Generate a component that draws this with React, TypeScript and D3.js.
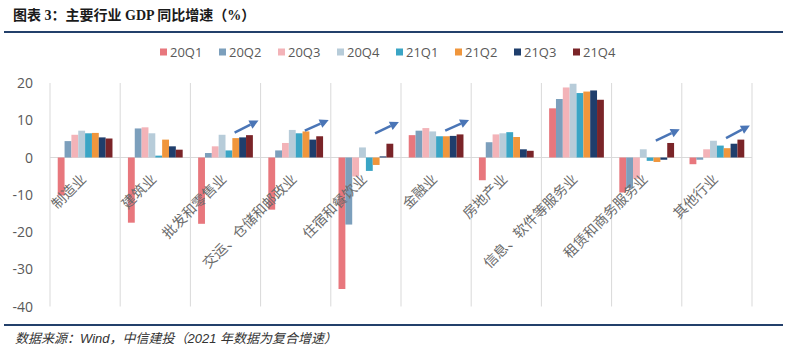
import React from "react";
import * as d3 from "d3";

const categories = [
  "制造业",
  "建筑业",
  "批发和零售业",
  "交运、仓储和邮政业",
  "住宿和餐饮业",
  "金融业",
  "房地产业",
  "信息、软件等服务业",
  "租赁和商务服务业",
  "其他行业",
];

const seriesNames = ["20Q1", "20Q2", "20Q3", "20Q4", "21Q1", "21Q2", "21Q3", "21Q4"];
const seriesColors = ["#E8777D", "#7C9FBC", "#F3B3B8", "#B7CCD9", "#3AA5C5", "#F0963C", "#1F3E6C", "#7A2428"];

const q20Q1 = [-10.2, -17.5, -17.8, -14.0, -35.3, 6.0, -6.1, 13.2, -9.4, -1.8];
const q20Q2 = [4.4, 7.8, 1.2, 1.9, -18.0, 7.2, 4.1, 15.7, -8.2, -0.6];
const q20Q3 = [6.1, 8.1, 3.0, 3.9, -5.1, 7.9, 6.2, 18.8, -5.7, 2.2];
const q20Q4 = [7.2, 6.5, 6.1, 7.4, 2.7, 7.0, 6.5, 19.8, 2.2, 4.5];
const q21Q1 = [6.5, 0.5, 1.9, 6.5, -3.6, 5.7, 6.8, 17.3, -0.9, 3.2];
const q21Q2 = [6.6, 4.8, 5.2, 7.0, -2.0, 5.7, 5.5, 17.7, -1.2, 2.5];
const q21Q3 = [5.4, 3.0, 5.4, 4.8, 0.3, 5.8, 2.2, 18.0, -0.6, 3.7];
const q21Q4 = [5.1, 2.1, 6.0, 5.7, 3.7, 6.2, 1.8, 15.5, 3.9, 4.8];
const seriesValues = [q20Q1, q20Q2, q20Q3, q20Q4, q21Q1, q21Q2, q21Q3, q21Q4];

const yTicks = [20, 10, 0, -10, -20, -30, -40];

// trend arrows: category, start value, end value
const arrowCats = ["批发和零售业", "交运、仓储和邮政业", "住宿和餐饮业", "金融业", "租赁和商务服务业", "其他行业"];
const arrowFrom = [6.7, 7.2, 6.5, 7.2, 4.5, 5.2];
const arrowTo = [9.9, 10.1, 9.5, 10.1, 7.6, 8.6];

const titleText = "图表 3：主要行业 GDP 同比增速（%）";
const sourceText = "数据来源：Wind，中信建投（2021 年数据为复合增速）";

export default function App() {
  const W = 800;
  const H = 353;
  const plotLeft = 50;
  const plotRight = 752;
  const plotTop = 83;
  const plotBottom = 306.5;

  const x0 = d3.scaleBand<string>().domain(categories).range([plotLeft, plotRight]).padding(0);
  const bw = x0.bandwidth();
  const x1 = d3
    .scaleBand<string>()
    .domain(seriesNames)
    .range([bw * 0.11, bw * 0.89])
    .padding(0);
  const y = d3.scaleLinear().domain([-40, 20]).range([plotBottom, plotTop]);

  const cjk = "'Noto Sans CJK SC', sans-serif";
  const latin = "'Open Sans', 'Noto Sans CJK SC', sans-serif";
  const gridColor = "#D9D9D9";
  const arrowColor = "#4A75B6";

  const boundaries = categories.map((c) => x0(c) as number).concat([plotRight]);

  return (
    <svg
      width={W}
      height={H}
      viewBox={`0 0 ${W} ${H}`}
      style={{ position: "absolute", left: 0, top: 0, background: "#fff" }}
    >
      <rect x={0} y={0} width={W} height={H} fill="#fff" />
      {/* title */}
      <text
        x={13}
        y={20}
        fontSize={14}
        fontWeight="bold"
        fill="#1a1a1a"
        fontFamily="'Liberation Serif', 'Noto Sans CJK SC', serif"
      >
        {titleText}
      </text>
      <line x1={4} x2={783} y1={32} y2={32} stroke="#23406B" strokeWidth={2} />

      {/* legend */}
      {seriesNames.map((s, i) => {
        const lx = 160 + i * 59;
        return (
          <g key={s}>
            <rect x={lx} y={48.5} width={7} height={7} fill={seriesColors[i]} />
            <text x={lx + 10} y={52} dy="0.36em" fontSize={13} fill="#595959" fontFamily={latin}>
              {s}
            </text>
          </g>
        );
      })}

      {/* gridlines */}
      {boundaries.map((bx, i) => (
        <line key={i} x1={bx} x2={bx} y1={plotTop} y2={plotBottom} stroke={gridColor} strokeWidth={1} />
      ))}
      <line x1={plotLeft} x2={plotRight} y1={y(0)} y2={y(0)} stroke={gridColor} strokeWidth={1} />

      {/* y ticks */}
      {yTicks.map((t) => (
        <text
          key={t}
          x={33}
          y={y(t)}
          dy="0.36em"
          textAnchor="end"
          fontSize={14}
          fill="#595959"
          fontFamily={latin}
        >
          {t}
        </text>
      ))}

      {/* bars */}
      {categories.map((c, ci) => (
        <g key={c} transform={`translate(${x0(c)},0)`}>
          {seriesNames.map((s, si) => {
            const v = seriesValues[si][ci];
            const yy = Math.min(y(v), y(0));
            const hh = Math.abs(y(v) - y(0));
            return (
              <rect
                key={s}
                x={x1(s) as number}
                y={yy}
                width={x1.bandwidth()}
                height={hh}
                fill={seriesColors[si]}
              />
            );
          })}
        </g>
      ))}

      {/* category labels */}
      {categories.map((c) => {
        const cx = (x0(c) as number) + bw / 2 + 2;
        const cy = 180;
        return (
          <text
            key={c}
            x={cx}
            y={cy}
            textAnchor="end"
            fontSize={14}
            fill="#6b6b6b"
            fontFamily={cjk}
            transform={`rotate(-45 ${cx} ${cy})`}
          >
            {c}
          </text>
        );
      })}

      {/* arrows */}
      {arrowCats.map((c, i) => {
        const bx = x0(c) as number;
        const xs = bx + bw * 0.63;
        const xe = bx + bw * 0.97;
        const ys = y(arrowFrom[i]);
        const ye = y(arrowTo[i]);
        const ang = Math.atan2(ye - ys, xe - xs);
        const L = 9;
        const Wd = 4.5;
        const bxp = xe - L * Math.cos(ang);
        const byp = ye - L * Math.sin(ang);
        const px = -Math.sin(ang);
        const py = Math.cos(ang);
        const pts = [
          [xe, ye],
          [bxp + px * Wd, byp + py * Wd],
          [bxp - px * Wd, byp - py * Wd],
        ];
        return (
          <g key={c}>
            <line x1={xs} y1={ys} x2={bxp} y2={byp} stroke={arrowColor} strokeWidth={2.5} />
            <polygon points={pts.map((p) => p.join(",")).join(" ")} fill={arrowColor} />
          </g>
        );
      })}

      {/* footer */}
      <line x1={4} x2={783} y1={325} y2={325} stroke="#23406B" strokeWidth={2} />
      <text
        x={15}
        y={343}
        fontSize={13}
        fontStyle="italic"
        fill="#333"
        fontFamily="'Liberation Sans', 'Noto Sans CJK SC', sans-serif"
      >
        {sourceText}
      </text>
    </svg>
  );
}
